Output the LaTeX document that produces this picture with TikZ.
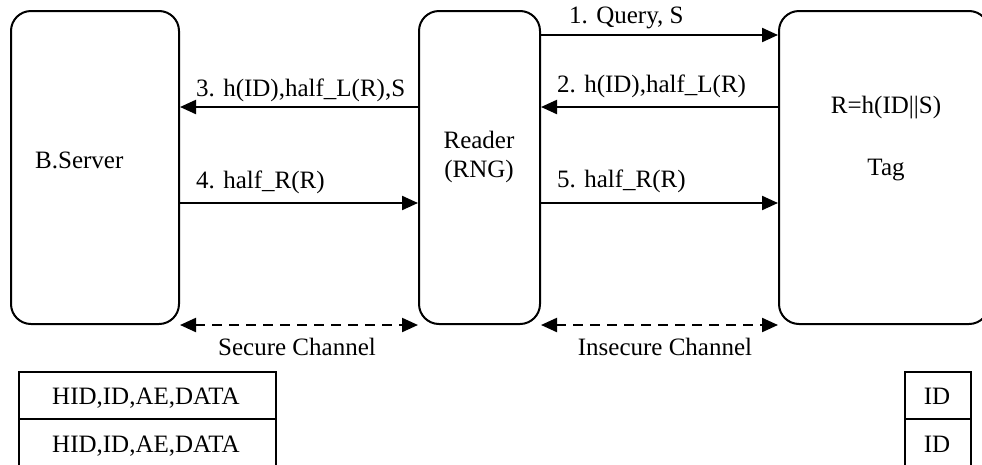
\documentclass[tikz,border=0pt]{standalone}
\usepackage{fontspec}
\setmainfont{Liberation Serif}
\usetikzlibrary{arrows.meta,calc}
\begin{document}
\begin{tikzpicture}[x=1pt,y=-1pt,
  every node/.style={font=\fontsize{25}{29}\selectfont, inner sep=0pt},
  ent/.style={draw, line width=2pt, rounded corners=20pt, anchor=north west},
  cell/.style={draw, line width=2pt, anchor=north west},
  msg/.style={line width=2.2pt, -{Triangle[length=16pt,width=14pt]}},
  chan/.style={line width=2.2pt, dash pattern=on 10pt off 7pt, {Triangle[length=16pt,width=14pt]}-{Triangle[length=16pt,width=14pt]}},
  lbl/.style={anchor=base west}]
\useasboundingbox (0,0) rectangle (982,464);
\clip (0,0) rectangle (982,464);
% entities
\node[ent, minimum width=168pt, minimum height=313pt] (srv) at (10,10) {};
\node[ent, minimum width=121pt, minimum height=313pt] (rdr) at (418,10) {};
\node[ent, minimum width=210pt, minimum height=313pt] (tag) at (778,10) {};
\node[anchor=base west] (srvt) at (35,168) {B.Server};
\node[anchor=base] (rdrt1) at (479,148) {Reader};
\node[anchor=base] (rdrt2) at (479,177) {(RNG)};
\node[anchor=base] (tagt1) at (886,113) {R=h(ID||S)};
\node[anchor=base] (tagt2) at (886,175) {Tag};
% messages
\draw[msg] (rdr.east |- 0,35) -- (tag.west |- 0,35);
\node[lbl] (m1) at (569,23) {1. Query, S};
\draw[msg] (tag.west |- 0,107) -- (rdr.east |- 0,107);
\node[lbl] (m2) at (557,92) {2. h(ID),half\_L(R)};
\draw[msg] (rdr.west |- 0,107) -- (srv.east |- 0,107);
\node[lbl] (m3) at (196,96) {3. h(ID),half\_L(R),S};
\draw[msg] (srv.east |- 0,203) -- (rdr.west |- 0,203);
\node[lbl] (m4) at (196,188) {4. half\_R(R)};
\draw[msg] (rdr.east |- 0,203) -- (tag.west |- 0,203);
\node[lbl] (m5) at (557,187) {5. half\_R(R)};
% channels
\draw[chan] (srv.south east) -- (rdr.south west);
\draw[chan] (rdr.south east) -- (tag.south west);
\node[anchor=base] (sc) at (297,355) {Secure Channel};
\node[anchor=base] (ic) at (665,355) {Insecure Channel};
% tables
\node[cell, minimum width=257pt, minimum height=47pt] (l1) at (18,371) {};
\node[cell, minimum width=257pt, minimum height=48pt] (l2) at (18,418) {};
\node[anchor=base] at (146,404) {HID,ID,AE,DATA};
\node[anchor=base] at (146,452) {HID,ID,AE,DATA};
\node[cell, minimum width=66pt, minimum height=47pt] (r1) at (904,371) {};
\node[cell, minimum width=66pt, minimum height=48pt] (r2) at (904,418) {};
\node[anchor=base] at (937,404) {ID};
\node[anchor=base] at (937,452) {ID};
\end{tikzpicture}
\end{document}
